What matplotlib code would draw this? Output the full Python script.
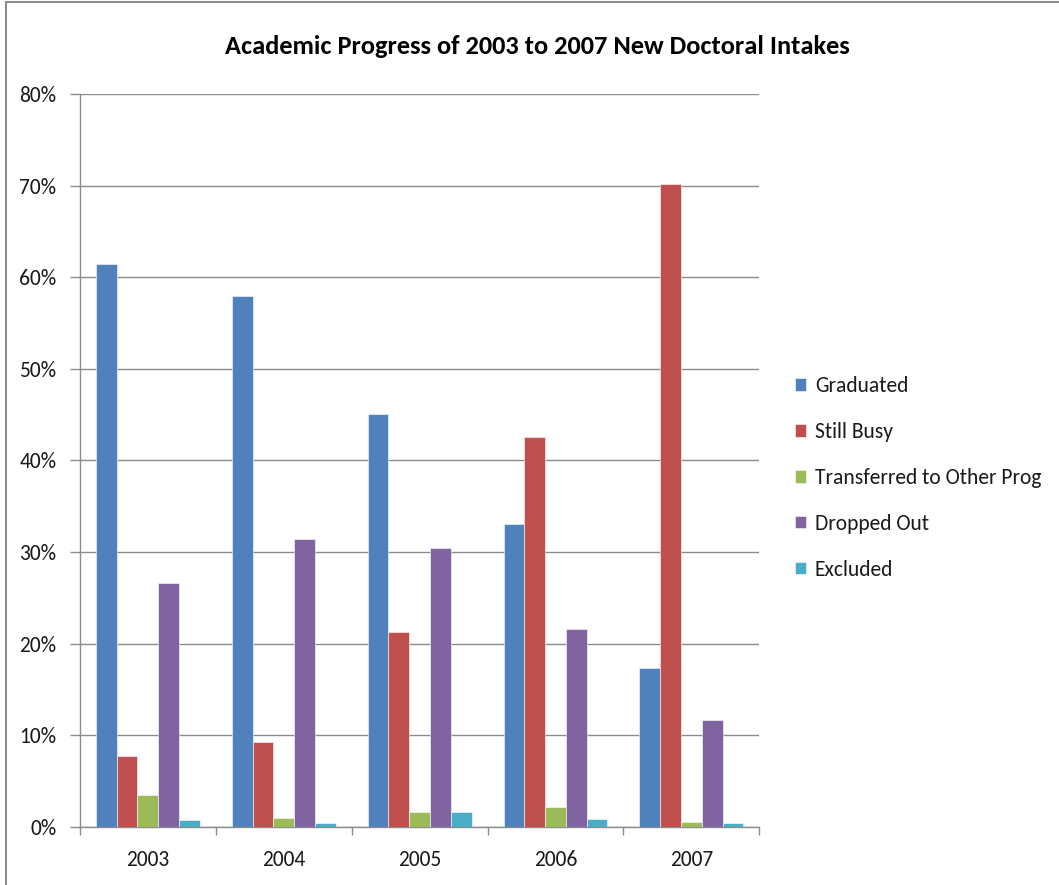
import matplotlib
matplotlib.use("Agg")
import matplotlib.pyplot as plt
import numpy as np
from matplotlib.ticker import FixedLocator, PercentFormatter
from matplotlib.patches import Rectangle

plt.rcParams['font.family'] = ['Carlito', 'Lato', 'DejaVu Sans']

years = ["2003", "2004", "2005", "2006", "2007"]
series = ["Graduated", "Still Busy", "Transferred to Other Prog", "Dropped Out", "Excluded"]
graduated = [61.4, 57.9, 45.1, 33.0, 17.3]
still_busy = [7.75, 9.2, 21.25, 42.5, 70.2]
transferred = [3.5, 1.0, 1.64, 2.2, 0.48]
dropped_out = [26.6, 31.4, 30.4, 21.6, 11.6]
excluded = [0.73, 0.45, 1.64, 0.84, 0.44]
colors = ["#4F81BD", "#C0504D", "#9BBB59", "#8064A2", "#4BACC6"]

values = [graduated, still_busy, transferred, dropped_out, excluded]

fig = plt.figure(figsize=(10.59, 8.85), dpi=100)
fig.patches.append(Rectangle((0.0057, -0.01), 1.2, 1.0075, transform=fig.transFigure,
                             fill=False, edgecolor="#8c8c8c", linewidth=1.5))
ax = fig.add_axes([0.0755, 0.0659, 0.6415, 0.8279])

x = np.arange(len(years))
w = 0.153
for i, (name, vals, c) in enumerate(zip(series, values, colors)):
    ax.bar(x + (i - 2) * w, vals, width=w, color=c, label=name, zorder=3,
           edgecolor="white", linewidth=0.4)

ax.set_xlim(-0.5, len(years) - 0.5)
ax.set_ylim(0, 80)
ax.set_yticks(np.arange(0, 81, 10))
ax.yaxis.set_major_formatter(PercentFormatter(decimals=0))
ax.yaxis.grid(True, color="#8c8c8c", linewidth=1.0, zorder=0)
ax.set_xticks(x)
ax.set_xticklabels(years)
ax.xaxis.set_minor_locator(FixedLocator(np.arange(-0.5, len(years), 1.0)))
ax.tick_params(axis="x", which="major", length=0, pad=17, labelsize=15.5, labelcolor="#1a1a1a")
ax.tick_params(axis="x", which="minor", length=6, color="#8c8c8c", width=1)
ax.tick_params(axis="y", length=7, color="#8c8c8c", width=1, pad=10, labelsize=15.5, labelcolor="#1a1a1a")

for s in ["top", "right"]:
    ax.spines[s].set_visible(False)
for s in ["left", "bottom"]:
    ax.spines[s].set_color("#8c8c8c")
    ax.spines[s].set_linewidth(1.0)

fig.text(0.507, 0.948, "Academic Progress of 2003 to 2007 New Doctoral Intakes",
         ha="center", va="center", fontsize=19, fontweight="bold")

leg = ax.legend(loc="center left", bbox_to_anchor=(1.0526, 0.476), frameon=False,
                borderpad=0, borderaxespad=0,
                fontsize=15.5, handlelength=0.52, handleheight=0.52, handletextpad=0.4,
                labelspacing=1.2, labelcolor="#1a1a1a")

fig.savefig("out.png", dpi=100)
